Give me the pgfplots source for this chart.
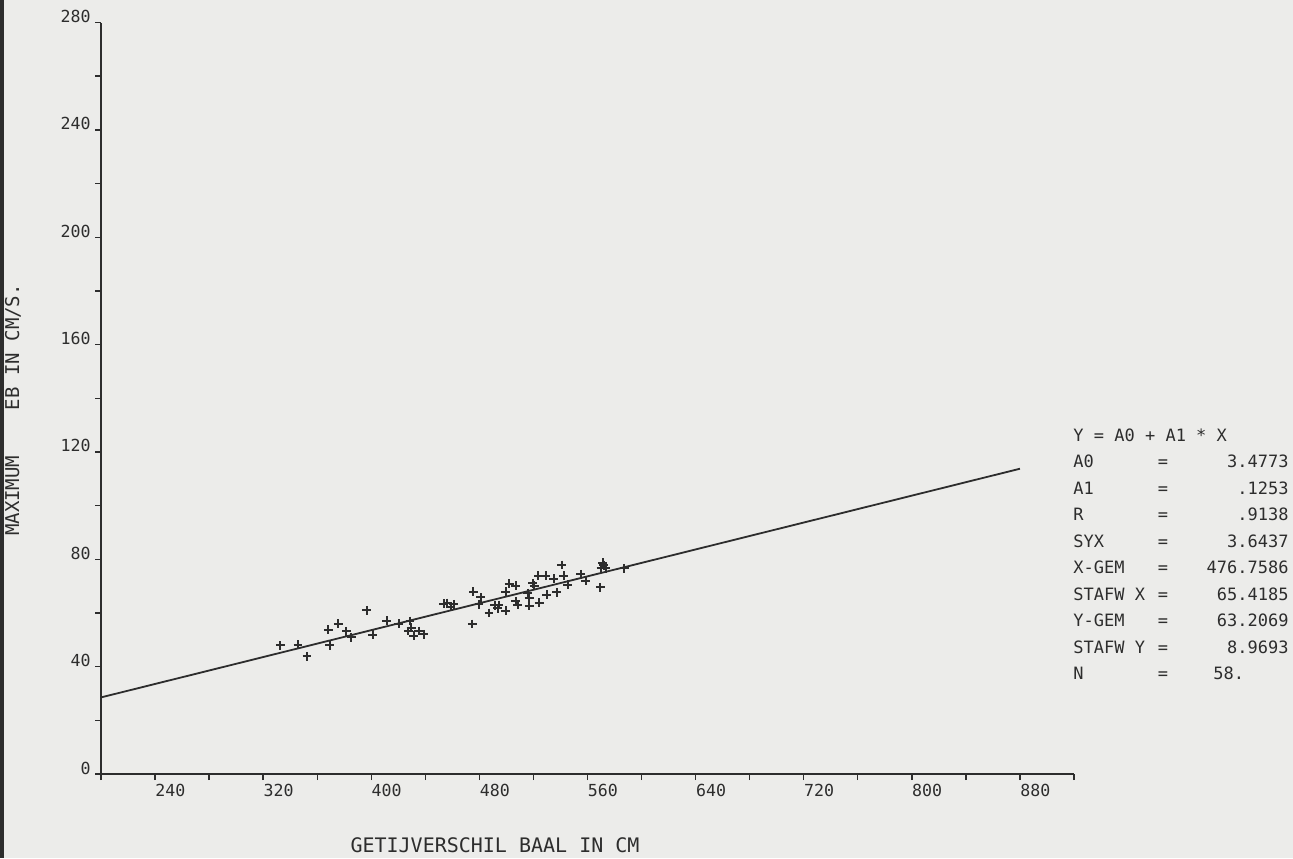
\documentclass[border=0pt]{standalone}
\usepackage{pgfplots}
\pgfplotsset{compat=1.18}
\usepackage{fontspec}
\setmainfont{DejaVu Sans Mono}
\setmonofont{DejaVu Sans Mono}
\definecolor{paper}{RGB}{236,236,234}
\definecolor{ink}{RGB}{45,45,45}
\begin{document}
\begin{tikzpicture}[x=1pt,y=1pt]
\fill[paper] (0,0) rectangle (646.5,429);
\useasboundingbox (0,0) rectangle (646.5,429);
\fill[ink] (0,0) rectangle (2,429);
\begin{axis}[
  scale only axis, width=486.5pt, height=375.75pt,
  at={(50.5pt,42pt)}, anchor=south west,
  xmin=200, xmax=920, ymin=0, ymax=280,
  axis x line*=bottom, axis y line*=left,
  xtick={240,320,...,880}, minor xtick={200,280,...,920},
  ytick={0,40,...,280}, minor ytick={20,60,...,260},
  tick align=outside, major tick length=3pt, minor tick length=3pt,
  every tick/.style={ink, line width=0.7pt},
  axis line style={ink, line width=0.8pt},
  /pgf/number format/assume math mode=true,
  ticklabel style={font=\fontsize{8.3}{9}\selectfont, text=ink},
  xticklabel style={anchor=north west, inner sep=0pt, yshift=-2pt},
  yticklabel style={anchor=base east, inner sep=0pt, xshift=-2pt},
  clip=false,
]
\addplot[ink, line width=0.9pt] coordinates {(200,28.54) (880,113.74)};
\addplot[only marks, mark=+, mark size=2.2pt, ink, mark options={line width=1pt}] coordinates {
(332.7,47.9) (345.8,48.2) (352.5,43.9) (368.1,53.8) (375.5,56.0)
(369.3,47.9) (381.6,53.2) (385.3,51.0) (396.5,61.0) (401.1,51.9)
(411.3,57.1) (420.4,56.0) (428.6,57.0) (427.5,53.3) (431.5,51.5)
(435.0,53.3) (439.0,52.1) (456.3,63.7) (458.7,62.4) (461.0,63.2)
(475.6,68.0) (481.0,65.8) (479.7,63.3) (474.8,55.9) (487.1,60.0)
(491.2,62.9) (493.5,61.8) (499.5,60.8) (499.5,68.0) (502.0,70.9)
(507.0,70.1) (507.0,64.3) (508.2,63.1) (515.6,67.4) (516.8,65.5)
(516.8,62.7) (519.3,71.1) (520.5,70.1) (524.2,63.9) (523.7,73.9)
(529.2,73.9) (529.9,66.8) (534.9,72.7) (537.1,67.7) (540.8,77.9)
(542.3,73.9) (545.3,70.5) (555.1,74.4) (558.8,72.0) (569.4,69.5)
(571.2,78.8) (570.0,76.7) (573.7,76.7) (587.3,76.7) (453.5,63.5)
(572.0,77.8) (429.5,54.5) (494.5,63.0)
};
\end{axis}
% axis titles
\node[font=\fontsize{10}{12}\selectfont, text=ink] at (247.5,6.5) {GETIJVERSCHIL BAAL IN CM};
\node[font=\fontsize{9.5}{11}\selectfont, text=ink, rotate=90] at (6.5,224) {MAXIMUM\ \ \ \ EB IN CM/S.};
% statistics block
\begin{scope}[every node/.style={font=\fontsize{8.5}{10}\selectfont, text=ink, inner sep=0pt}]
\node[anchor=mid west] at (536.5,211) {Y = A0 + A1 * X};
\node[anchor=mid west] at (536.5,197.75) {A0};
\node[anchor=mid west] at (536.5,184.5) {A1};
\node[anchor=mid west] at (536.5,171.25) {R};
\node[anchor=mid west] at (536.5,158) {SYX};
\node[anchor=mid west] at (536.5,144.75) {X-GEM};
\node[anchor=mid west] at (536.5,131.5) {STAFW X};
\node[anchor=mid west] at (536.5,118.25) {Y-GEM};
\node[anchor=mid west] at (536.5,105) {STAFW Y};
\node[anchor=mid west] at (536.5,91.75) {N};
\foreach \yy in {197.75,184.5,171.25,158,144.75,131.5,118.25,105,91.75}
  \node[anchor=mid] at (581.5,\yy) {=};
\node[anchor=mid east] at (644.5,197.75) {3.4773};
\node[anchor=mid east] at (644.5,184.5) {.1253};
\node[anchor=mid east] at (644.5,171.25) {.9138};
\node[anchor=mid east] at (644.5,158) {3.6437};
\node[anchor=mid east] at (644.5,144.75) {476.7586};
\node[anchor=mid east] at (644.5,131.5) {65.4185};
\node[anchor=mid east] at (644.5,118.25) {63.2069};
\node[anchor=mid east] at (644.5,105) {8.9693};
\node[anchor=mid west] at (606.5,91.75) {58.};
\end{scope}
\end{tikzpicture}
\end{document}
